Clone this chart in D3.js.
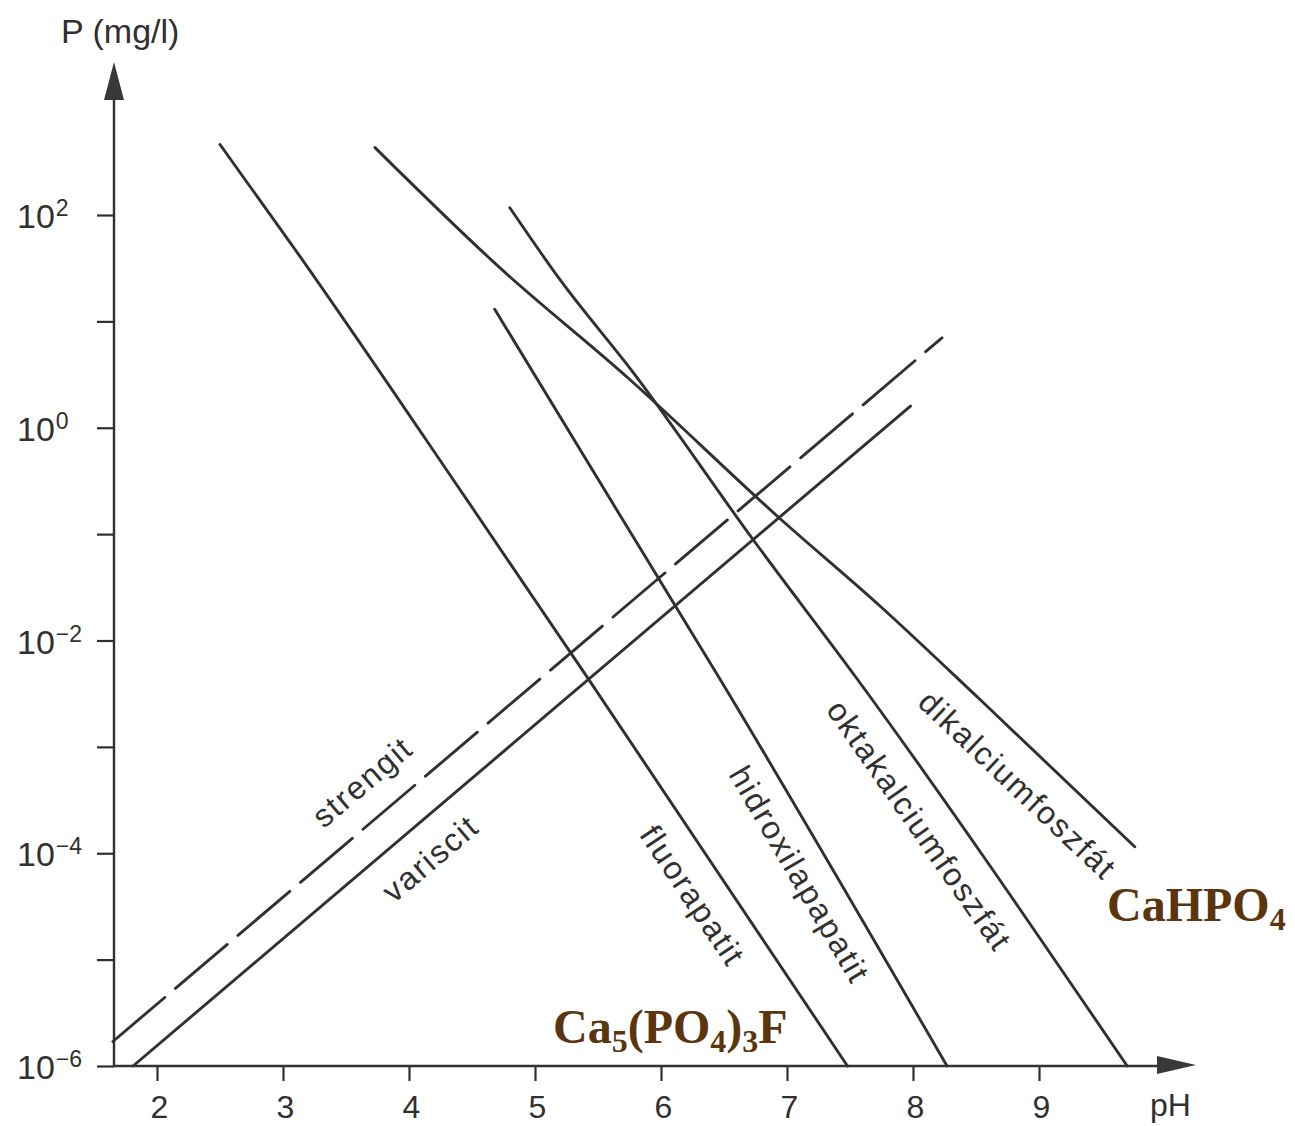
<!DOCTYPE html>
<html>
<head>
<meta charset="utf-8">
<script src="https://cdn.jsdelivr.net/npm/d3@7"></script>
<style>
  html, body { margin: 0; padding: 0; background: #ffffff; }
  svg { display: block; }
</style>
</head>
<body>
<div id="chart"></div>
<script>
// ---------- data ----------
const xTicks = [2, 3, 4, 5, 6, 7, 8, 9];
const yMajorExp = [2, 0, -2, -4, -6];
const yMinorExp = [1, -1, -3, -5];

const fluorapatitPH = [2.50, 3.14, 4.46, 5.41, 7.48];
const fluorapatitP  = [4.6e2, 4.0e1, 2.1e-1, 4.6e-3, 1.0e-6];

const hidroxilapatitPH = [4.68, 5.60, 6.47, 8.27];
const hidroxilapatitP  = [1.3e1, 2.1e-1, 4.3e-3, 1.0e-6];

const oktakalciumPH = [4.80, 5.20, 5.78, 6.73, 7.56, 9.70];
const oktakalciumP  = [1.17e2, 2.45e1, 3.3, 8.9e-2, 4.3e-3, 1.0e-6];

const dikalciumPH = [3.73, 4.72, 5.73, 6.93, 7.74, 8.53, 9.76];
const dikalciumP  = [4.3e2, 3.2e1, 3.0, 1.45e-1, 2.1e-2, 2.8e-3, 1.15e-4];

const strengitPH = [1.65, 8.23];
const strengitP  = [1.7e-6, 7.0];

const variscitPH = [1.81, 7.98];
const variscitP  = [1.0e-6, 1.6];

const seriesNames = ["fluorapatit", "hidroxilapapatit", "oktakalciumfoszfát", "dikalciumfoszfát", "strengit", "variscit"];

// ---------- setup ----------
const W = 1295, H = 1126;
const ink = "#303030";
const sans = "'Liberation Sans', Arial, Helvetica, sans-serif";
const svg = d3.select("#chart").append("svg").attr("width", W).attr("height", H);
svg.append("rect").attr("width", W).attr("height", H).attr("fill", "#ffffff");

const x = d3.scaleLinear().domain([2, 9]).range([157, 1039]);
const y = d3.scaleLog().domain([1e-6, 1e2]).range([1066, 215]);
const axisX0 = 114;           // y-axis position
const axisY0 = y(1e-6);       // x-axis position

const zip = (a, b) => a.map((v, i) => ({ ph: v, p: b[i] }));
const series = [
  { name: seriesNames[0], pts: zip(fluorapatitPH, fluorapatitP), dash: null,
    label: { ph: 6.25, p: Math.pow(10, -4.40) }, seg: [3, 4] },
  { name: seriesNames[1], pts: zip(hidroxilapatitPH, hidroxilapatitP), dash: null,
    label: { ph: 7.10, p: Math.pow(10, -4.20) }, seg: [2, 3] },
  { name: seriesNames[2], pts: zip(oktakalciumPH, oktakalciumP), dash: null,
    label: { ph: 8.05, p: Math.pow(10, -3.74) }, seg: [4, 5] },
  { name: seriesNames[3], pts: zip(dikalciumPH, dikalciumP), dash: null,
    label: { ph: 8.83, p: Math.pow(10, -3.36) }, seg: [4, 6] },
  { name: seriesNames[4], pts: zip(strengitPH, strengitP), dash: "68,14",
    label: { ph: 3.63, p: Math.pow(10, -3.33) }, seg: [0, 1] },
  { name: seriesNames[5], pts: zip(variscitPH, variscitP), dash: null,
    label: { ph: 4.17, p: Math.pow(10, -4.05) }, seg: [0, 1] }
];

// ---------- axes ----------
const gx = svg.append("g").attr("transform", `translate(0,${axisY0})`)
  .call(d3.axisBottom(x).tickValues(xTicks).tickSize(15).tickSizeOuter(0).tickFormat(d => d));
gx.select(".domain").remove();
gx.selectAll(".tick line").attr("stroke", ink).attr("stroke-width", 2.2);
gx.selectAll(".tick text")
  .attr("fill", ink).attr("font-family", sans)
  .attr("font-size", 32)
  .attr("y", 0).attr("dy", null).attr("transform", "translate(2,52)");

const yTickVals = yMajorExp.concat(yMinorExp).map(e => Math.pow(10, e));
const gy = svg.append("g").attr("transform", `translate(${axisX0},0)`)
  .call(d3.axisLeft(y).tickValues(yTickVals).tickSize(17).tickFormat(""));
gy.select(".domain").remove();
gy.selectAll(".tick line").attr("stroke", ink).attr("stroke-width", 2.2);

// major labels 10^n
yMajorExp.forEach(e => {
  const t = svg.append("text")
    .attr("x", 17).attr("y", y(Math.pow(10, e)) + 13)
    .attr("fill", ink).attr("font-family", sans)
    .attr("font-size", 34);
  t.append("tspan").text("10");
  t.append("tspan").attr("font-size", 23).attr("dy", -12).attr("dx", 1)
    .text(e < 0 ? "\u2212" + Math.abs(e) : String(e));
});

// axis lines with arrows
svg.append("line").attr("x1", axisX0).attr("x2", axisX0)
  .attr("y1", axisY0 + 1).attr("y2", 96).attr("stroke", ink).attr("stroke-width", 2.4);
svg.append("path").attr("d", `M${axisX0},62 L${axisX0 - 10},100 L${axisX0 + 10},100 Z`).attr("fill", "#383838");

svg.append("line").attr("x1", axisX0).attr("x2", 1162)
  .attr("y1", axisY0).attr("y2", axisY0).attr("stroke", ink).attr("stroke-width", 2.4);
svg.append("path").attr("d", `M1196,${axisY0 - 1} L1157,${axisY0 - 10} L1157,${axisY0 + 8} Z`).attr("fill", "#383838");

// axis titles
svg.append("text").attr("x", 61).attr("y", 43)
  .attr("fill", ink).attr("font-family", sans)
  .attr("font-size", 34).text("P (mg/l)");
svg.append("text").attr("x", 1150).attr("y", 1116)
  .attr("fill", ink).attr("font-family", sans)
  .attr("font-size", 32).text("pH");

// ---------- lines ----------
const line = d3.line().curve(d3.curveMonotoneX).x(d => x(d.ph)).y(d => y(d.p));
series.forEach(s => {
  svg.append("path").datum(s.pts)
    .attr("d", line)
    .attr("fill", "none")
    .attr("stroke", ink)
    .attr("stroke-width", 2.9)
    .attr("stroke-linecap", "round")
    .attr("stroke-dasharray", s.dash);
});

// ---------- rotated labels ----------
series.forEach(s => {
  const a = s.pts[s.seg[0]], b = s.pts[s.seg[1]];
  const ang = Math.atan2(y(b.p) - y(a.p), x(b.ph) - x(a.ph)) * 180 / Math.PI;
  svg.append("text")
    .attr("transform", `translate(${x(s.label.ph)},${y(s.label.p)}) rotate(${ang})`)
    .attr("text-anchor", "middle")
    .attr("dominant-baseline", "central")
    .attr("fill", ink)
    .attr("font-family", sans)
    .attr("font-size", 32)
    .attr("letter-spacing", 1.9)
    .text(s.name);
});

// ---------- formula labels ----------
function formula(xp, yp, parts) {
  const t = svg.append("text").attr("x", xp).attr("y", yp)
    .attr("fill", "#5a3510")
    .attr("font-family", "'Liberation Serif', 'Times New Roman', serif")
    .attr("font-weight", "bold").attr("font-size", 48);
  let shifted = false;
  parts.forEach(p => {
    const sp = t.append("tspan").text(p.t);
    if (p.sub) { sp.attr("font-size", 32).attr("dy", 9); shifted = true; }
    else if (shifted) { sp.attr("dy", -9); shifted = false; }
  });
}
formula(553, 1043, [{ t: "Ca" }, { t: "5", sub: true }, { t: "(PO" }, { t: "4", sub: true }, { t: ")" }, { t: "3", sub: true }, { t: "F" }]);
formula(1107, 921, [{ t: "CaHPO" }, { t: "4", sub: true }]);
</script>
</body>
</html>
